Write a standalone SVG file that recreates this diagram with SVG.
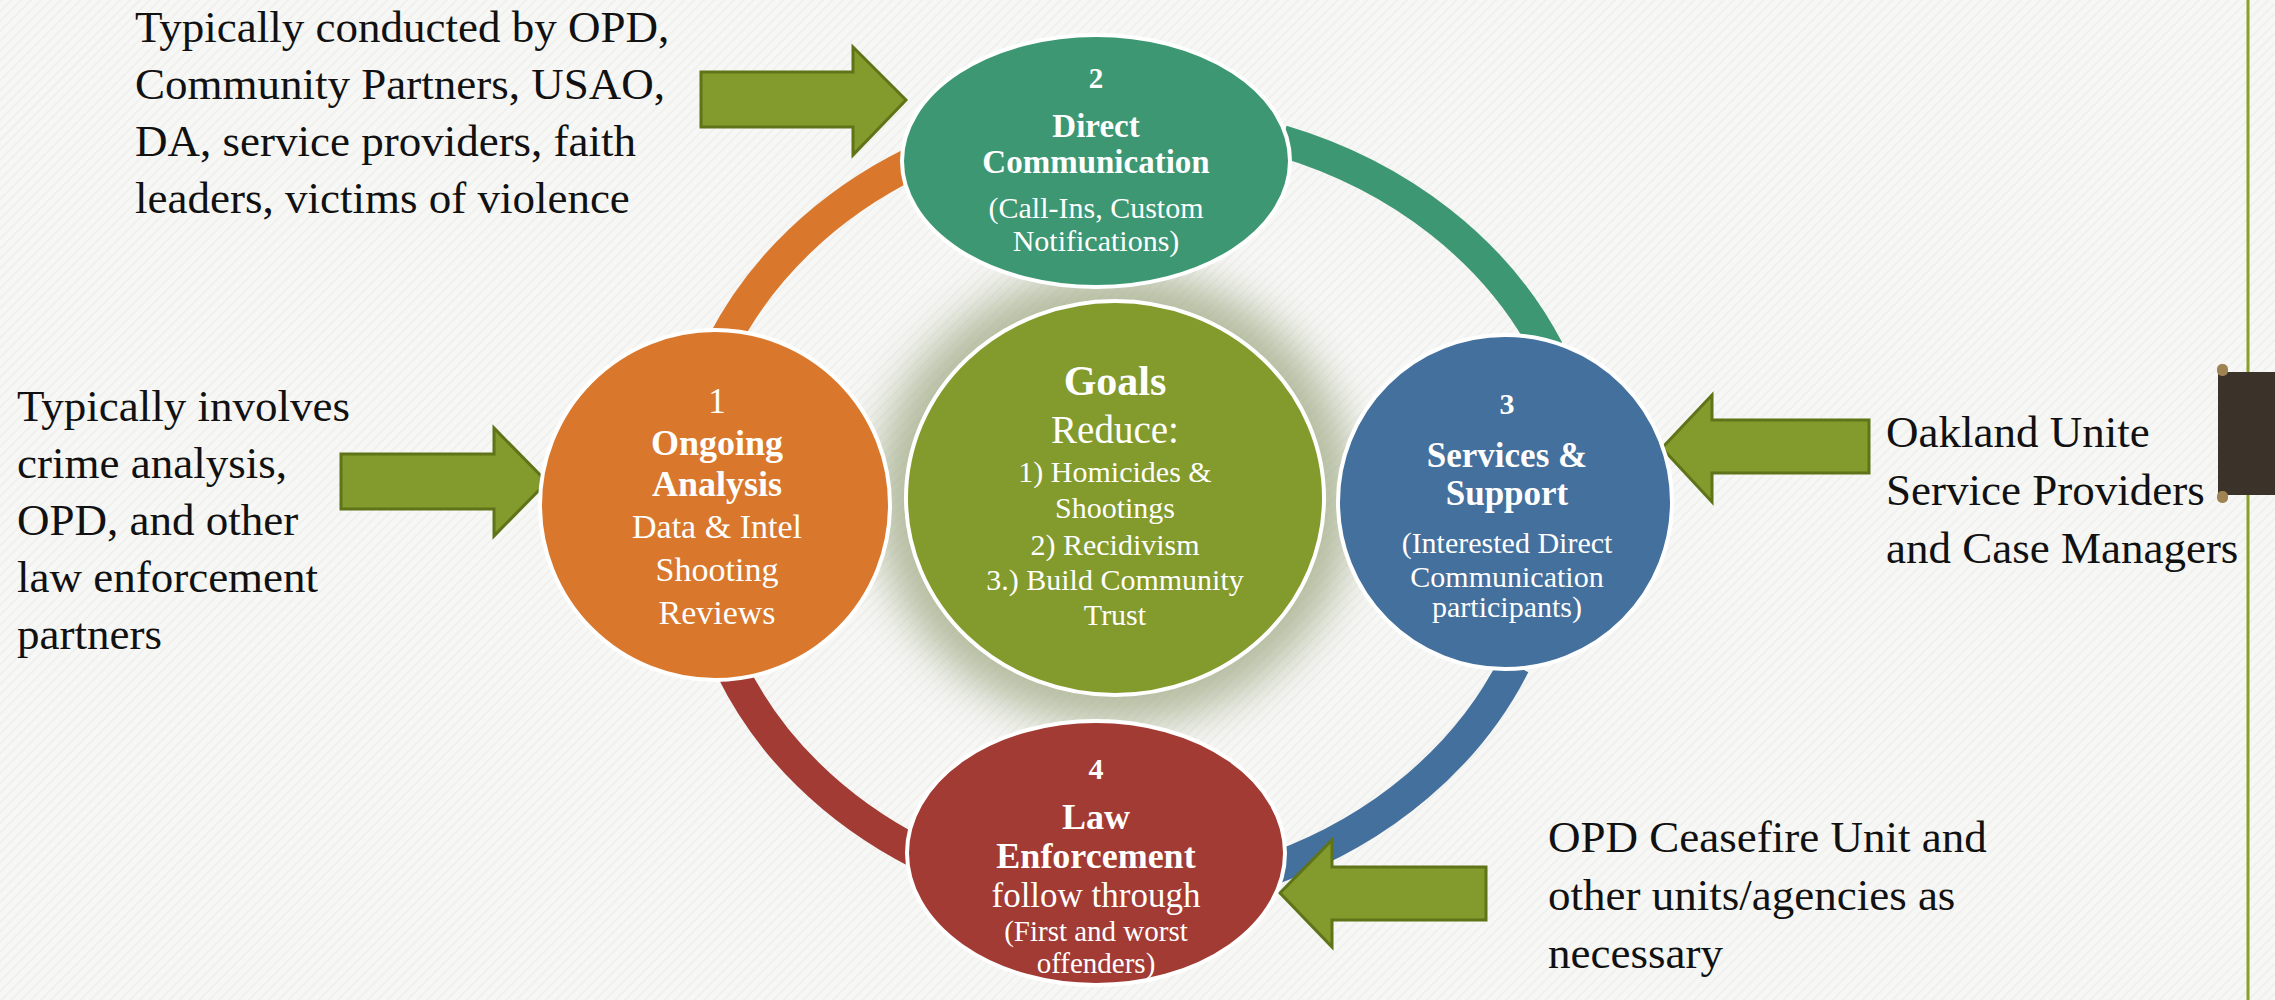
<svg xmlns="http://www.w3.org/2000/svg" width="2275" height="1000" viewBox="0 0 2275 1000">
<defs>
<pattern id="tex" width="7" height="7" patternUnits="userSpaceOnUse" patternTransform="rotate(-45)">
<rect width="7" height="7" fill="#F7F7F5"/>
<rect width="7" height="2" fill="#F0F0EE"/>
</pattern>
<filter id="glow" x="-30%" y="-30%" width="160%" height="160%">
<feGaussianBlur stdDeviation="22"/>
</filter>
<style>
.side{font-family:"Liberation Serif","Times New Roman",serif;font-size:45px;fill:#111}
.nt{font-family:"Liberation Serif","Times New Roman",serif;fill:#fff;text-anchor:middle}
.b{font-weight:bold}
.arc{fill:none;stroke-width:32}
.node{stroke:#fff;stroke-width:4}
.arrow{fill:#839A2C;stroke:#5F7419;stroke-width:3;stroke-linejoin:miter}
</style>
</defs>
<rect width="2275" height="1000" fill="url(#tex)"/>

<!-- right edge decoration -->
<line x1="2248" y1="0" x2="2248" y2="1000" stroke="#8AA02C" stroke-width="3"/>
<rect x="2218" y="372" width="57" height="123" fill="#3B3229"/>
<rect x="2217" y="364" width="11" height="12" rx="5" fill="#A08352"/>
<rect x="2217" y="491" width="11" height="12" rx="5" fill="#A08352"/>

<!-- connectors: cycle ring arcs and block arrows -->
<g id="connectors">
<path class="arc" stroke="#D9782D" d="M 722 345 A 455 388 0 0 1 912 163"/>
<path class="arc" stroke="#3C9772" d="M 1282 141 A 455 388 0 0 1 1548 350"/>
<path class="arc" stroke="#44709D" d="M 1514 665 A 455 388 0 0 1 1275 868"/>
<path class="arc" stroke="#A23B33" d="M 918 853 A 455 388 0 0 1 732 670"/>
<polygon class="arrow" points="701,72 853,72 853,47 906,100 853,155 853,127 701,127"/>
<polygon class="arrow" points="341,454 494,454 494,428 547,482 494,536 494,509 341,509"/>
<polygon class="arrow" points="1869,420 1712,420 1712,395 1662,448 1712,502 1712,473 1869,473"/>
<polygon class="arrow" points="1486,867 1332,867 1332,840 1280,893 1332,947 1332,920 1486,920"/>
</g>

<!-- goals glow -->
<ellipse cx="1115" cy="498" rx="240" ry="228" fill="#9EA983" opacity="0.75" filter="url(#glow)"/>

<g id="node-goals">
<ellipse class="node" cx="1115" cy="498" rx="209" ry="197" fill="#839A2C"/>
<text class="nt b" x="1115" y="395" font-size="42">Goals</text>
<text class="nt" x="1115" y="443" font-size="39">Reduce:</text>
<text class="nt" x="1115" y="482" font-size="30">1) Homicides &amp;</text>
<text class="nt" x="1115" y="518" font-size="30">Shootings</text>
<text class="nt" x="1115" y="555" font-size="30">2) Recidivism</text>
<text class="nt" x="1115" y="590" font-size="30">3.) Build Community</text>
<text class="nt" x="1115" y="625" font-size="30">Trust</text>
</g>

<g id="node-1">
<circle class="node" cx="715" cy="505" r="175" fill="#D9782D"/>
<text class="nt" x="717" y="413" font-size="35">1</text>
<text class="nt b" x="717" y="455" font-size="36">Ongoing</text>
<text class="nt b" x="717" y="496" font-size="36">Analysis</text>
<text class="nt" x="717" y="538" font-size="34">Data &amp; Intel</text>
<text class="nt" x="717" y="581" font-size="34">Shooting</text>
<text class="nt" x="717" y="624" font-size="34">Reviews</text>
</g>

<g id="node-2">
<ellipse class="node" cx="1096" cy="161" rx="194" ry="126" fill="#3C9772"/>
<text class="nt b" x="1096" y="88" font-size="29">2</text>
<text class="nt b" x="1096" y="137" font-size="33">Direct</text>
<text class="nt b" x="1096" y="173" font-size="33">Communication</text>
<text class="nt" x="1096" y="218" font-size="30">(Call-Ins, Custom</text>
<text class="nt" x="1096" y="251" font-size="30">Notifications)</text>
</g>

<g id="node-3">
<circle class="node" cx="1505" cy="502" r="167" fill="#44709D"/>
<text class="nt b" x="1507" y="414" font-size="30">3</text>
<text class="nt b" x="1507" y="467" font-size="35">Services &amp;</text>
<text class="nt b" x="1507" y="505" font-size="35">Support</text>
<text class="nt" x="1507" y="553" font-size="30">(Interested Direct</text>
<text class="nt" x="1507" y="587" font-size="30">Communication</text>
<text class="nt" x="1507" y="617" font-size="30">participants)</text>
</g>

<g id="node-4">
<ellipse class="node" cx="1096" cy="853" rx="189" ry="132" fill="#A23B33"/>
<text class="nt b" x="1096" y="779" font-size="30">4</text>
<text class="nt b" x="1096" y="829" font-size="36">Law</text>
<text class="nt b" x="1096" y="868" font-size="36">Enforcement</text>
<text class="nt" x="1096" y="907" font-size="35">follow through</text>
<text class="nt" x="1096" y="941" font-size="29">(First and worst</text>
<text class="nt" x="1096" y="973" font-size="29">offenders)</text>
</g>

<g id="label-top-left">
<text class="side" x="135" y="42">Typically conducted by OPD,</text>
<text class="side" x="135" y="99">Community Partners, USAO,</text>
<text class="side" x="135" y="156">DA, service providers, faith</text>
<text class="side" x="135" y="213">leaders, victims of violence</text>
</g>

<g id="label-left">
<text class="side" x="17" y="421">Typically involves</text>
<text class="side" x="17" y="478">crime analysis,</text>
<text class="side" x="17" y="535">OPD, and other</text>
<text class="side" x="17" y="592">law enforcement</text>
<text class="side" x="17" y="649">partners</text>
</g>

<g id="label-right">
<text class="side" x="1886" y="447">Oakland Unite</text>
<text class="side" x="1886" y="505">Service Providers</text>
<text class="side" x="1886" y="563">and Case Managers</text>
</g>

<g id="label-bottom-right">
<text class="side" x="1548" y="852">OPD Ceasefire Unit and</text>
<text class="side" x="1548" y="910">other units/agencies as</text>
<text class="side" x="1548" y="968">necessary</text>
</g>
</svg>
